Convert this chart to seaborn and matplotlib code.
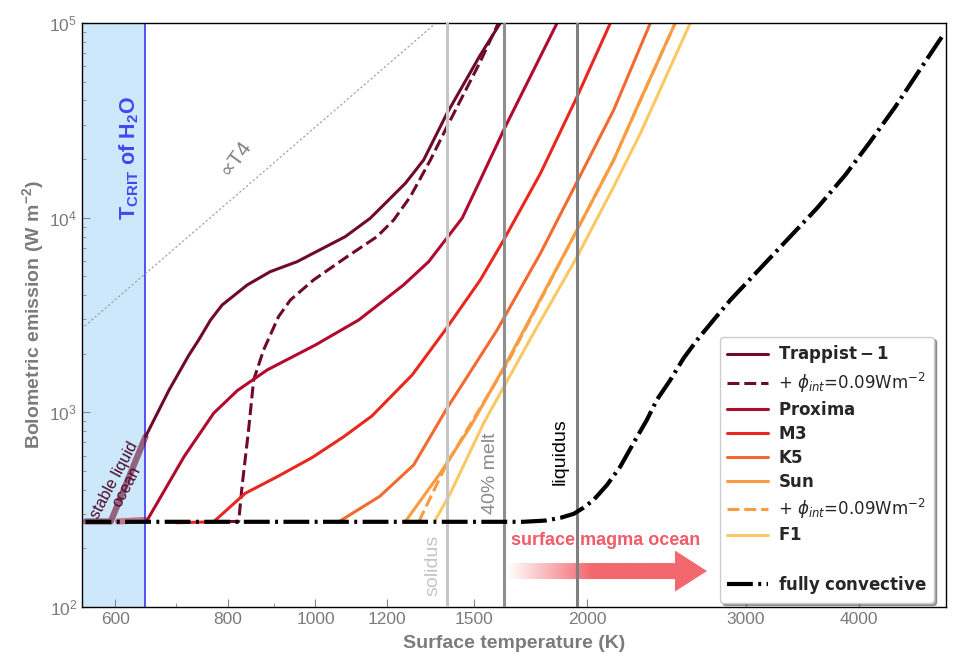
import numpy as np
import pandas as pd
import seaborn as sns
import matplotlib.pyplot as plt
from matplotlib.lines import Line2D
from matplotlib.patches import Polygon
from matplotlib.colors import to_rgb

# ---- values: surface temperature (K) / bolometric emission (W m-2)
trappist_T = [648, 688, 724, 742, 765, 788, 840, 891, 954, 1079, 1150, 1258, 1318, 1399, 1523, 1603]
trappist_F = [750, 1300, 1970, 2350, 2980, 3560, 4510, 5280, 5940, 7990, 9930, 15020, 19790, 34380, 68480, 100000]
trappist_ocean_T = [556, 593, 648]
trappist_ocean_F = [275, 275, 750]
trappist_int_T = [800, 822, 829, 843, 854, 876, 910, 938, 995, 1084, 1170, 1221, 1274, 1341, 1399, 1523, 1595]
trappist_int_F = [275, 275, 415, 812, 1467, 2092, 3101, 3778, 4786, 6303, 7988, 9731, 12820, 19790, 29340, 63270, 100000]

proxima_ocean_T = [604, 648]
proxima_ocean_F = [275, 280]
proxima_T = [651, 715, 771, 819, 884, 1000, 1117, 1252, 1335, 1454, 1523, 1621, 1853]
proxima_F = [280, 592, 989, 1293, 1651, 2219, 2984, 4511, 5943, 9931, 15620, 28900, 100000]

m3_T = [701, 771, 836, 907, 991, 1075, 1155, 1280, 1393, 1523, 1617, 1776, 1950, 2123]
m3_F = [271, 274, 384, 467, 585, 750, 958, 1556, 2650, 4786, 7685, 16900, 41830, 100000]

k5_T = [1057, 1178, 1285, 1399, 1590, 1776, 1950, 2141, 2351]
k5_F = [271, 370, 537, 1050, 2650, 6563, 15300, 35740, 100000]

sun_T = [1258, 1375, 1485, 1631, 1950, 2141, 2292, 2505]
sun_F = [275, 487, 845, 1821, 8650, 19790, 40230, 100000]
sun_int_T = [1302, 1399, 1472, 1631, 1950, 2141, 2292, 2505]
sun_int_F = [275, 548, 812, 1780, 8650, 19790, 40230, 100000]

f1_T = [1358, 1411, 1536, 1753, 1950, 2141, 2292, 2603]
f1_F = [280, 384, 879, 2650, 6300, 14430, 27130, 100000]

conv_T = [556, 1700, 1798, 1868, 1933, 1983, 2034, 2105, 2177, 2262, 2330, 2390, 2474,
          2559, 2649, 2763, 2884, 3113, 3346, 3597, 3867, 4121, 4394, 4662, 4949]
conv_F = [274, 274, 278, 287, 301, 324, 355, 424, 526, 721, 914, 1158, 1467,
          1896, 2354, 2984, 3778, 5497, 7838, 11180, 16570, 24570, 37160, 56220, 85060]

t4_T = [550, 1360]
t4_F = [2680, 100000]

T_crit = 647
T_solidus = 1400
T_melt40 = 1620
T_liquidus = 1950

labels = [r'$\mathbf{Trappist-1}$', r'+ $\mathit{\phi_{int}}$=0.09Wm$^{-2}$', r'$\mathbf{Proxima}$',
          r'$\mathbf{M3}$', r'$\mathbf{K5}$', r'$\mathbf{Sun}$', r'+ $\mathit{\phi_{int}}$=0.09Wm$^{-2}$',
          r'$\mathbf{F1}$', ' ', r'$\mathbf{fully\ convective}$']

# colours
c_trap = '#6e0a2c'
c_prox = '#b10a2e'
c_m3 = '#e8281f'
c_k5 = '#f26a30'
c_sun = '#f99b40'
c_f1 = '#fcc866'
grey_txt = '#7b7b7b'

sns.set_style('white')
plt.rcParams['font.family'] = ['Liberation Sans', 'DejaVu Sans']
plt.rcParams['mathtext.default'] = 'regular'

fig = plt.figure(figsize=(9.6, 6.72), dpi=100)
ax = fig.add_axes([0.0854, 0.0967, 0.9, 0.8691])
ax.set_xscale('log')
ax.set_yscale('log')

# critical point of water
ax.axvspan(500, T_crit, color='#cde8fb', lw=0, zorder=0)
ax.axvline(T_crit, color='#3838ee', lw=1.2, zorder=1)

# T^4 guide
sns.lineplot(x=t4_T, y=t4_F, ax=ax, color='#9a9a9a', lw=0.8, linestyle=(0, (2, 2)),
             sort=False, estimator=None)


def draw(T, F, color, lw=2.2, ls='-', alpha=1.0, z=2):
    sns.lineplot(x=T, y=F, ax=ax, color=color, lw=lw, linestyle=ls, alpha=alpha,
                 sort=False, estimator=None, zorder=z)


dash = (0, (3.9, 1.6))
draw(trappist_ocean_T, trappist_ocean_F, c_trap, lw=4.5, alpha=0.6)
draw(proxima_ocean_T, proxima_ocean_F, c_prox, lw=4.5, alpha=0.5)
draw(trappist_T, trappist_F, c_trap)
draw(trappist_int_T, trappist_int_F, c_trap, ls=dash)
draw(proxima_T, proxima_F, c_prox)
draw(m3_T, m3_F, c_m3)
draw(k5_T, k5_F, c_k5)
draw(sun_T, sun_F, c_sun)
draw(sun_int_T, sun_int_F, c_sun, ls=dash)
draw(f1_T, f1_F, c_f1)

# melt lines
ax.axvline(T_solidus, color='#c6c6c6', lw=2.2, zorder=3)
ax.axvline(T_melt40, color='#8f8f8f', lw=2.2, zorder=3)
ax.axvline(T_liquidus, color='#7f7f7f', lw=2.2, zorder=3)

conv_ls = (0, (6.2, 1.3, 0.7, 1.3))
draw(conv_T, conv_F, 'black', lw=3, ls=conv_ls, z=4)

# gradient arrow "surface magma ocean"
arrow_xy = [(0.4919, 0.0479), (0.6863, 0.0479), (0.6863, 0.0265), (0.7234, 0.0616),
            (0.6863, 0.0967), (0.6863, 0.0753), (0.4919, 0.0753)]
poly = Polygon(arrow_xy, closed=True, transform=ax.transAxes, facecolor='none', edgecolor='none')
ax.add_patch(poly)
grad = np.ones((1, 256, 4))
grad[..., :3] = to_rgb('#f3686f')
grad[0, :, 3] = np.clip(np.linspace(0, 1, 256) / 0.42, 0, 1)
im = ax.imshow(grad, extent=[0.4919, 0.7234, 0.0265, 0.0967], transform=ax.transAxes,
               aspect='auto', interpolation='bilinear', zorder=1.5)
im.set_clip_path(poly)

ax.set_xlim(551, 5000)
ax.set_ylim(100, 100000)

# annotations
ax.text(621, 20260, r'T$_{CRIT}$ of H$_2$O', color='#4646ee', fontsize=15.5, fontweight='bold',
        rotation=90, ha='center', va='center')
ax.text(817, 20260, '∝T4', color='#808080', fontsize=15, rotation=54, ha='center', va='center')
ax.text(608, 430, 'stable liquid\nocean', color='#4b0a2a', fontsize=11.5, rotation=62,
        ha='center', va='center', linespacing=0.95)
ax.text(1351, 163, 'solidus', color='#c4c4c4', fontsize=14, rotation=90, ha='center', va='center')
ax.text(1562, 489, '40% melt', color='#8a8a8a', fontsize=14, rotation=90, ha='center', va='center')
ax.text(1868, 626, 'liquidus', color='black', fontsize=14, rotation=90, ha='center', va='center')
ax.text(2096, 219, 'surface magma ocean', color='#f05c68', fontsize=13, fontweight='bold',
        ha='center', va='center')

# ticks and labels
ax.set_xticks([600, 800, 1000, 1200, 1500, 2000, 3000, 4000])
ax.set_xticklabels(['600', '800', '1000', '1200', '1500', '2000', '3000', '4000'])
ax.set_xticks([700, 900], minor=True)
ax.tick_params(which='both', direction='in', colors='#888888', labelcolor=grey_txt,
               labelsize=12.5, bottom=True, left=True)
ax.tick_params(which='major', length=6)
ax.tick_params(which='minor', length=3)
for s in ax.spines.values():
    s.set_color('black')
    s.set_linewidth(1)
ax.set_xlabel('Surface temperature (K)', fontsize=14, fontweight='bold', color=grey_txt, labelpad=6)
ax.set_ylabel('Bolometric emission (W m$^{-2}$)', fontsize=14, fontweight='bold', color=grey_txt,
              labelpad=2)

# legend
handles = [Line2D([], [], color=c_trap, lw=2.2),
           Line2D([], [], color=c_trap, lw=2.2, ls=dash),
           Line2D([], [], color=c_prox, lw=2.2),
           Line2D([], [], color=c_m3, lw=2.2),
           Line2D([], [], color=c_k5, lw=2.2),
           Line2D([], [], color=c_sun, lw=2.2),
           Line2D([], [], color=c_sun, lw=2.2, ls=dash),
           Line2D([], [], color=c_f1, lw=2.2),
           Line2D([], [], color='none'),
           Line2D([], [], color='black', lw=3, ls=conv_ls)]
leg = fig.legend(handles, labels, loc='upper left', bbox_to_anchor=(0.75, 0.499),
                 prop={'family': 'DejaVu Sans', 'size': 12}, frameon=True, fancybox=True,
                 shadow=True, framealpha=1, edgecolor='#cccccc', handlelength=2.5,
                 labelspacing=0.35, borderpad=0.4, handletextpad=0.6, borderaxespad=0)

fig.savefig('out.png', dpi=100)
